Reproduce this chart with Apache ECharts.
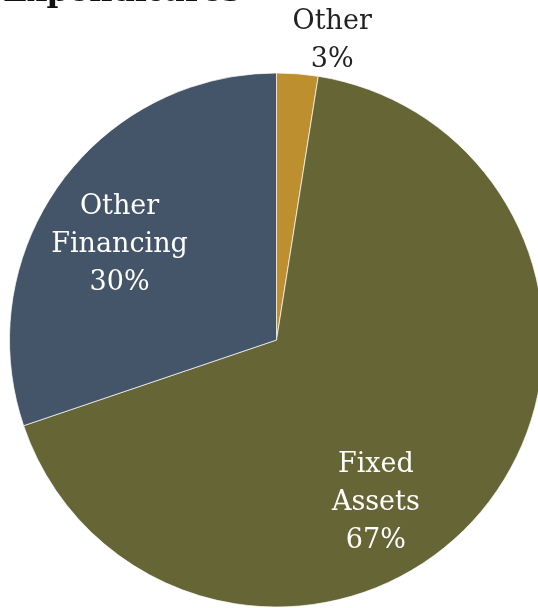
<!DOCTYPE html>
<html>
<head>
<meta charset="utf-8">
<script src="https://cdn.jsdelivr.net/npm/echarts@6/dist/echarts.min.js"></script>
<style>
html,body{margin:0;padding:0;background:#fff;}
#chart{width:538px;height:608px;}
</style>
</head>
<body>
<div id="chart"></div>
<script>
var titleText = 'Expenditures';
var categories = ['Other', 'Fixed Assets', 'Other Financing'];
var values = [2.5, 67.3, 30.2];

var colors = {'Other': '#BE8F2F', 'Fixed Assets': '#666535', 'Other Financing': '#445469'};
var labelColors = {'Other': '#222222', 'Fixed Assets': '#ffffff', 'Other Financing': '#ffffff'};
var labelOffsets = {'Other': [45, -163], 'Fixed Assets': [-5, 75], 'Other Financing': [-46, -15]};

var data = categories.map(function (c, i) {
  return {
    name: c,
    value: values[i],
    itemStyle: {color: colors[c]},
    label: {color: labelColors[c], offset: labelOffsets[c]}
  };
});

var chart = echarts.init(document.getElementById('chart'));
chart.setOption({
  animation: false,
  title: {
    text: titleText,
    left: -2,
    top: -28,
    textStyle: {fontFamily: 'DejaVu Serif', fontWeight: 'bold', fontSize: 32, color: '#111111'}
  },
  series: [{
    type: 'pie',
    center: [276.5, 340],
    radius: [0, 267],
    startAngle: 90,
    clockwise: true,
    avoidLabelOverlap: false,
    itemStyle: {borderColor: 'rgba(255,255,255,0.7)', borderWidth: 1},
    label: {
      show: true,
      position: 'inside',
      fontFamily: 'DejaVu Serif',
      fontSize: 27,
      lineHeight: 38,
      align: 'center',
      formatter: function (p) {
        return p.name.replace(' ', '\n') + '\n' + Math.round(p.value) + '%';
      }
    },
    labelLine: {show: false},
    emphasis: {disabled: true},
    data: data
  }]
});
</script>
</body>
</html>
